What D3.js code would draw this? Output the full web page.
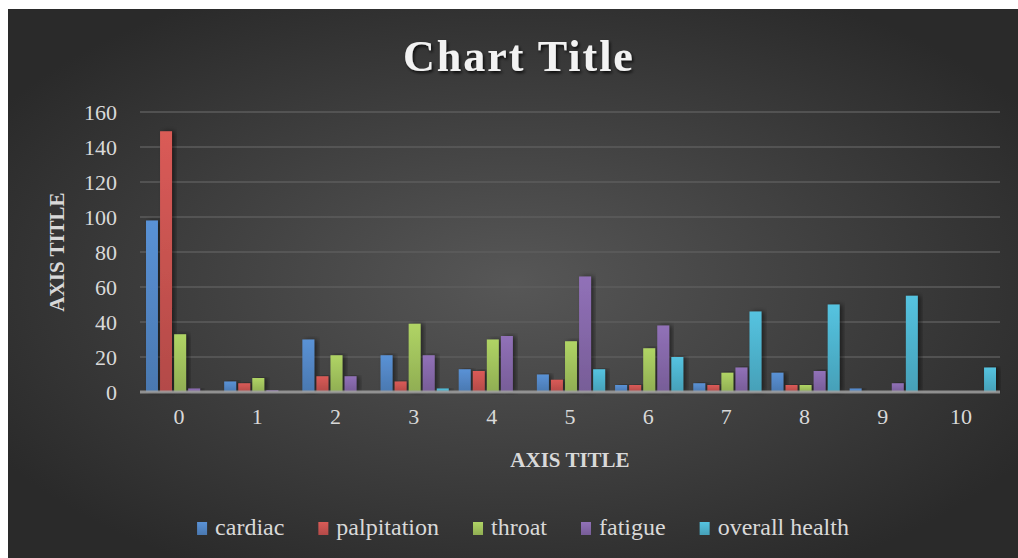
<!DOCTYPE html>
<html>
<head>
<meta charset="utf-8">
<script src="https://cdn.jsdelivr.net/npm/d3@7"></script>
<style>
  body { margin: 0; background: #fff; }
  text { font-family: "Liberation Serif", "DejaVu Serif", serif; }
</style>
</head>
<body>
<svg id="chart_svg" width="1018" height="558"></svg>
<script>
// Data
const categories = ["0", "1", "2", "3", "4", "5", "6", "7", "8", "9", "10"];
const seriesNames = ["cardiac", "palpitation", "throat", "fatigue", "overall health"];
const cardiac     = [98, 6, 30, 21, 13, 10, 4, 5, 11, 2, 0];
const palpitation = [149, 5, 9, 6, 12, 7, 4, 4, 4, 0, 0];
const throat      = [33, 8, 21, 39, 30, 29, 25, 11, 4, 0, 0];
const fatigue     = [2, 1, 9, 21, 32, 66, 38, 14, 12, 5, 0];
const overall     = [0, 0, 0, 2, 0, 13, 20, 46, 50, 55, 14];
const yTicks = [0, 20, 40, 60, 80, 100, 120, 140, 160];

const seriesValues = [cardiac, palpitation, throat, fatigue, overall];
const colors = ["#4f81bd", "#c0504d", "#9bbb59", "#8064a2", "#4bacc6"];

const svg = d3.select("#chart_svg");
const defs = svg.append("defs");

// background gradient
const bg = defs.append("radialGradient").attr("id", "bgGrad")
    .attr("cx", "50%").attr("cy", "50%").attr("r", "60%");
bg.append("stop").attr("offset", "0%").attr("stop-color", "#575757");
bg.append("stop").attr("offset", "100%").attr("stop-color", "#2a2a2a");

// bar gradients
colors.forEach((c, i) => {
    const g = defs.append("linearGradient").attr("id", "barGrad" + i)
        .attr("x1", 0).attr("y1", 0).attr("x2", 0).attr("y2", 1);
    g.append("stop").attr("offset", "0%").attr("stop-color", d3.color(c).brighter(0.35));
    g.append("stop").attr("offset", "100%").attr("stop-color", d3.color(c).darker(0.2));
});

const shadow = defs.append("filter").attr("id", "barShadow")
    .attr("x", "-20%").attr("y", "-5%").attr("width", "160%").attr("height", "110%");
shadow.append("feDropShadow").attr("dx", 3).attr("dy", 0).attr("stdDeviation", 2.5)
    .attr("flood-color", "#000").attr("flood-opacity", 0.5);

const titleShadow = defs.append("filter").attr("id", "titleShadow");
titleShadow.append("feDropShadow").attr("dx", 1.5).attr("dy", 2).attr("stdDeviation", 1.5)
    .attr("flood-color", "#000").attr("flood-opacity", 0.8);

svg.append("rect")
    .attr("x", 8).attr("y", 9).attr("width", 1010).attr("height", 549)
    .attr("fill", "url(#bgGrad)");

// Scales
const xScale = d3.scaleBand().domain(categories).range([140, 1000]);
const x1 = d3.scaleBand().domain(seriesNames)
    .range([6, xScale.bandwidth() - 4]).paddingInner(0.15);
const yScale = d3.scaleLinear().domain([0, 160]).range([392, 112]);

// Grid lines
svg.append("g").selectAll("line")
    .data(yTicks.slice(1))
    .enter().append("line")
    .attr("x1", 140).attr("x2", 1000)
    .attr("y1", d => yScale(d)).attr("y2", d => yScale(d))
    .attr("stroke", "#5e5e5e").attr("stroke-width", 2).attr("opacity", 0.7);

// Bars
const groups = svg.append("g").selectAll("g")
    .data(categories)
    .enter().append("g")
    .attr("transform", d => `translate(${xScale(d)},0)`);

groups.selectAll("rect")
    .data((d, i) => seriesNames.map((s, j) => ({ key: s, idx: j, value: seriesValues[j][i] })))
    .enter().append("rect")
    .filter(d => d.value > 0)
    .attr("x", d => x1(d.key))
    .attr("width", x1.bandwidth())
    .attr("y", d => yScale(d.value))
    .attr("height", d => yScale(0) - yScale(d.value))
    .attr("fill", d => `url(#barGrad${d.idx})`)
    .attr("filter", "url(#barShadow)");

// zero line
svg.append("line")
    .attr("x1", 140).attr("x2", 1000)
    .attr("y1", yScale(0)).attr("y2", yScale(0))
    .attr("stroke", "#a0a0a0").attr("stroke-width", 3).attr("opacity", 0.85);

// Y axis labels
const yAxis = d3.axisLeft(yScale).tickValues(yTicks).tickSize(0).tickPadding(0);
const gY = svg.append("g").attr("transform", "translate(117,0)").call(yAxis);
gY.select(".domain").remove();
gY.selectAll("text")
    .attr("fill", "#d9d9d9")
    .style("font-size", "22px")
    .style("font-family", "'Liberation Serif', serif");

// X axis labels
const xAxis = d3.axisBottom(xScale).tickSize(0).tickPadding(0);
const gX = svg.append("g").attr("transform", "translate(0,408)").call(xAxis);
gX.select(".domain").remove();
gX.selectAll("text")
    .attr("fill", "#d9d9d9")
    .style("font-size", "22px")
    .style("font-family", "'Liberation Serif', serif");

// Title
svg.append("text")
    .attr("x", 519).attr("y", 71)
    .attr("text-anchor", "middle")
    .attr("fill", "#f2f2f2")
    .style("font-size", "44px")
    .style("font-weight", "bold")
    .style("letter-spacing", "2px")
    .attr("filter", "url(#titleShadow)")
    .text("Chart Title");

// Axis titles
svg.append("text")
    .attr("x", 570).attr("y", 467)
    .attr("text-anchor", "middle")
    .attr("fill", "#d9d9d9")
    .style("font-size", "21px")
    .style("font-weight", "bold")
    .text("AXIS TITLE");

svg.append("text")
    .attr("transform", "translate(64,252) rotate(-90)")
    .attr("text-anchor", "middle")
    .attr("fill", "#d9d9d9")
    .style("font-size", "21px")
    .style("font-weight", "bold")
    .text("AXIS TITLE");

// Legend
const legend = svg.append("g");
const legendGap = 34;
let lx = 0;
seriesNames.forEach((name, i) => {
    const item = legend.append("g").attr("transform", `translate(${lx},0)`);
    item.append("rect")
        .attr("x", 0).attr("y", -13).attr("width", 10).attr("height", 13)
        .attr("fill", `url(#barGrad${i})`);
    const t = item.append("text")
        .attr("x", 18).attr("y", 0)
        .attr("fill", "#d9d9d9")
        .style("font-size", "24px")
        .text(name);
    lx += 18 + t.node().getComputedTextLength() + legendGap;
});
const legendWidth = lx - legendGap;
legend.attr("transform", `translate(${523 - legendWidth / 2},535)`);
</script>
</body>
</html>
